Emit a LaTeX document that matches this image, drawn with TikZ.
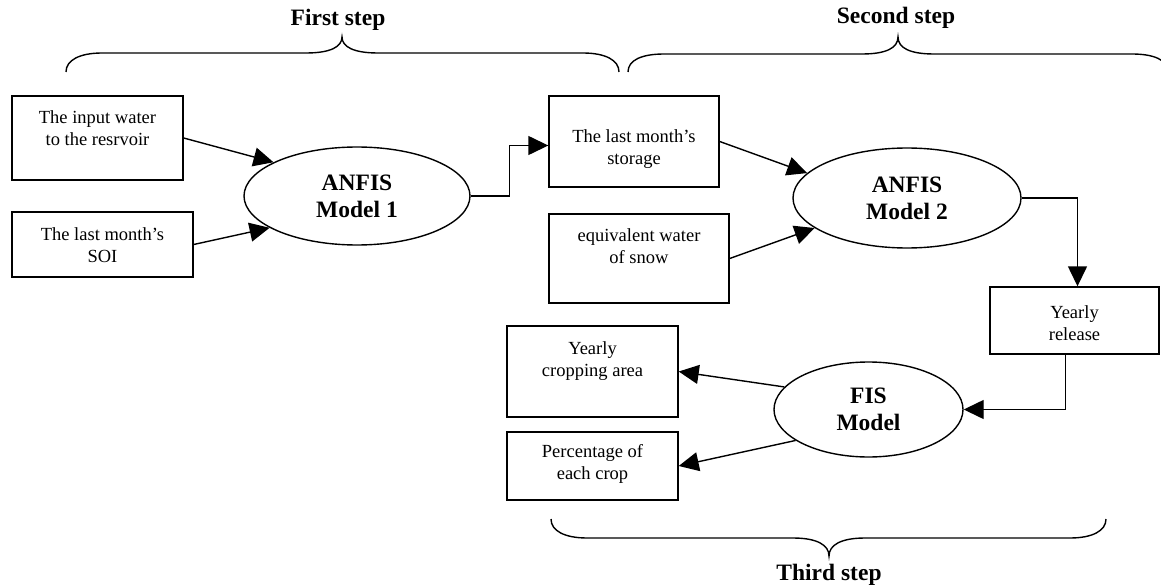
\documentclass[tikz,border=0pt]{standalone}
\usepackage{fontspec}
\setmainfont{Liberation Serif}
\usetikzlibrary{shapes.geometric,arrows.meta}
\begin{document}
\begin{tikzpicture}[x=1pt,y=-1pt,
  box/.style={draw, line width=1.4pt, inner sep=0pt},
  txt/.style={align=center, font=\fontsize{18.5}{22}\selectfont, inner sep=0pt},
  model/.style={draw, ellipse, line width=1.4pt, inner sep=0pt, align=center, font=\fontsize{23.5}{27}\bfseries\selectfont},
  arr/.style={line width=1.4pt, -{Triangle[length=20pt,width=19pt]}},
  brace/.style={line width=1.4pt},
  steplabel/.style={font=\fontsize{23.5}{27}\bfseries\selectfont, inner sep=0pt}]
\useasboundingbox (0,0) rectangle (1161,588);
\clip (0,0) rectangle (1161,588);

% boxes
\node[box, minimum width=171pt, minimum height=84pt] (b1) at (97.5,138) {};
\node[txt] (t1) at (97.5,128.5) {The input water\\to the resrvoir};
\node[box, minimum width=181pt, minimum height=65pt] (b2) at (102.5,244.5) {};
\node[txt] (t2) at (102.5,245.5) {The last month’s\\SOI};
\node[box, minimum width=170pt, minimum height=91pt] (b3) at (634,141.5) {};
\node[txt] (t3) at (634,149) {The last month’s\\storage};
\node[box, minimum width=180pt, minimum height=89pt] (b4) at (639,258.5) {};
\node[txt] (t4) at (639,246.5) {equivalent water\\of snow};
\node[box, minimum width=169pt, minimum height=67pt] (b5) at (1074.5,320.5) {};
\node[txt] (t5) at (1074.5,323.5) {Yearly\\release};
\node[box, minimum width=171pt, minimum height=91pt] (b6) at (592.5,371.5) {};
\node[txt] (t6) at (592.5,361.5) {Yearly\\cropping area};
\node[box, minimum width=171pt, minimum height=68pt] (b7) at (592.5,466) {};
\node[txt] (t7) at (592.5,464) {Percentage of\\each crop};

% models
\node[model, minimum width=226pt, minimum height=98pt] (e1) at (357,196) {ANFIS\\Model 1};
\node[model, minimum width=228pt, minimum height=100pt] (e2) at (907,198) {ANFIS\\Model 2};
\node[model, minimum width=189pt, minimum height=95pt] (e3) at (868.5,409.5) {FIS\\Model};

% connectors
\draw[arr] (b1.east) -- (e1.158);
\draw[arr] (b2.east) -- (e1.200);
\draw[arr] (e1.east) -- ++(39,0) |- ([yshift=-4pt]b3.west);
\draw[arr] (b3.east) -- (e2.166);
\draw[arr] (b4.east) -- (e2.198);
\draw[arr] (e2.east) -| ([xshift=3pt]b5.north);
\draw[arr] ([xshift=-9pt]b5.south) |- (e3.east);
\draw[arr] (e3.165) -- (b6.east);
\draw[arr] (e3.203) -- (b7.east);

% braces
\draw[brace] (66,72) .. controls (66,60) and (80,53) .. (102,53) -- (306,53)
  .. controls (330,53) and (342,47) .. (342,37)
  .. controls (342,47) and (354,53) .. (378,53) -- (583,53)
  .. controls (605,53) and (619,60) .. (619,72);
\draw[brace] (628,72) .. controls (628,60) and (642,54) .. (664,54) -- (862,54)
  .. controls (886,54) and (898,48) .. (898,37)
  .. controls (898,48) and (910,54) .. (934,54) -- (1132,54)
  .. controls (1154,54) and (1168,60) .. (1168,72);
\draw[brace] (551,519) .. controls (551,531) and (565,538) .. (587,538) -- (793,538)
  .. controls (817,538) and (829,545) .. (829,556)
  .. controls (829,545) and (841,538) .. (865,538) -- (1070,538)
  .. controls (1092,538) and (1106,531) .. (1106,519);

% step labels
\node[steplabel] (s1) at (338,20) {First step};
\node[steplabel] (s2) at (896,18) {Second step};
\node[steplabel] (s3) at (829,575) {Third step};
\end{tikzpicture}
\end{document}
